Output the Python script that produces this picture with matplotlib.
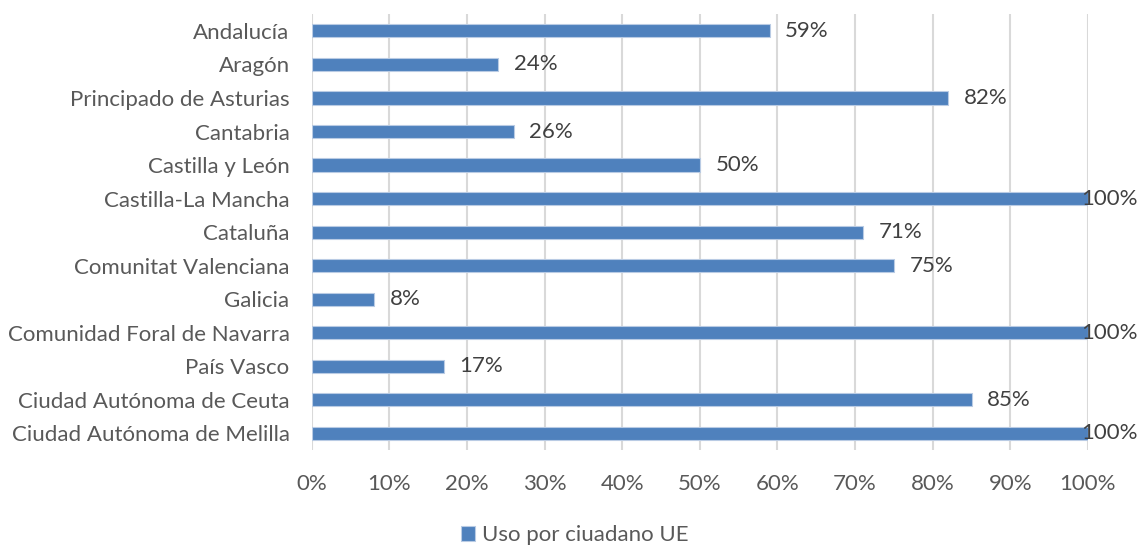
import matplotlib.pyplot as plt
import numpy as np

regions = ['Andalucía', 'Aragón', 'Principado de Asturias', 'Cantabria',
           'Castilla y León', 'Castilla-La Mancha', 'Cataluña',
           'Comunitat Valenciana', 'Galicia', 'Comunidad Foral de Navarra',
           'País Vasco', 'Ciudad Autónoma de Ceuta', 'Ciudad Autónoma de Melilla']
uso = [59, 24, 82, 26, 50, 100, 71, 75, 8, 100, 17, 85, 100]
xticks = list(range(0, 101, 10))
series_name = 'Uso por ciuadano UE'

plt.rcParams['font.family'] = ['Lato', 'DejaVu Sans']
text_color = '#595959'
bar_color = '#4f81bd'
fs = 16

fig = plt.figure(figsize=(11.38, 5.46), dpi=100)
ax = fig.add_axes([0.274, 0.176, 0.682, 0.798])

y = np.arange(len(regions))
ax.barh(y, uso, height=0.39, color=bar_color, edgecolor='#b9cbe4',
        linewidth=0.8, label=series_name, zorder=3)

for yi, v in zip(y, uso):
    if v < 100:
        ax.text(v + 2, yi, f'{v}%', va='center', ha='left',
                fontsize=fs, color='#404040')
    else:
        # sits on the bar end, like Excel does when there's no room
        ax.text(v - 0.9, yi, f'{v}%', va='center', ha='left',
                fontsize=fs, color='#404040', zorder=4)

ax.set_xlim(0, 100)
ax.set_ylim(len(regions) - 0.5, -0.5)
ax.set_xticks(xticks)
ax.set_xticklabels([f'{t}%' for t in xticks])
ax.set_yticks(y)
ax.set_yticklabels(regions)
ax.tick_params(axis='both', length=0, labelsize=fs, labelcolor=text_color)
ax.tick_params(axis='x', pad=17)
ax.tick_params(axis='y', pad=16)
ax.grid(axis='x', color='#d9d9d9', linewidth=1.5, zorder=0)
for s in ax.spines.values():
    s.set_visible(False)

fig.legend(loc='lower center', bbox_to_anchor=(0.505, -0.035), frameon=False,
           fontsize=fs, labelcolor=text_color, handlelength=0.65,
           handleheight=0.65, handletextpad=0.3)

fig.savefig('out.png', dpi=100)
